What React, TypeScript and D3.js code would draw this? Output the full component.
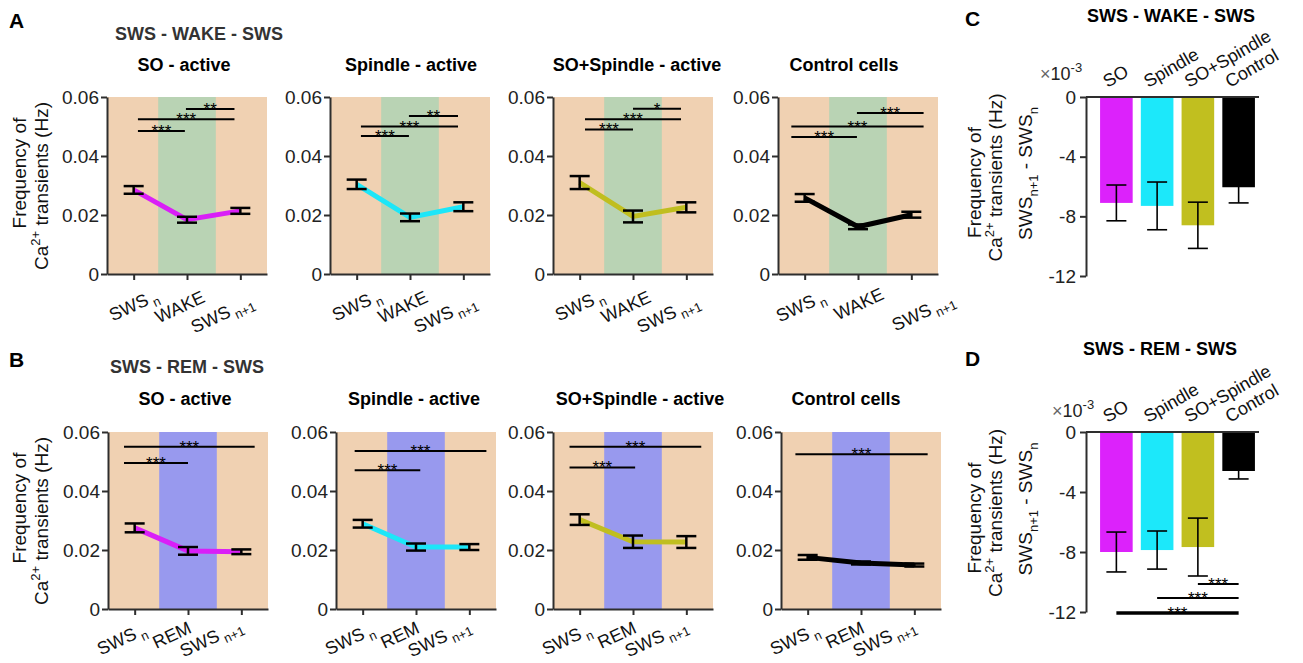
import React, { useEffect, useRef } from 'react';
import * as d3 from 'd3';

// x axis stages of the line panels
const wakeStages = ['SWS', 'WAKE', 'SWS'];
const remStages = ['SWS', 'REM', 'SWS'];
const stageSubs = ['n', '', 'n+1'];

const cellTypes = ['SO - active', 'Spindle - active', 'SO+Spindle - active', 'Control cells'];
const cellColors = ['#d91ff7', '#1de6f8', '#c0be1f', '#000000'];

const yTicks = [0, 0.02, 0.04, 0.06];

// mean frequency of Ca2+ transients (Hz) and SEM, one row per cell type
const wakeMeans = [
  [0.0285, 0.0184, 0.0214],
  [0.0304, 0.0192, 0.0228],
  [0.031, 0.0195, 0.0226],
  [0.0258, 0.016, 0.0201],
];
const wakeSem = [
  [0.0013, 0.001, 0.001],
  [0.0016, 0.0013, 0.0015],
  [0.0022, 0.002, 0.0017],
  [0.0013, 0.0008, 0.001],
];
const remMeans = [
  [0.0275, 0.0197, 0.0194],
  [0.0289, 0.021, 0.021],
  [0.0303, 0.0228, 0.0227],
  [0.0175, 0.0156, 0.0149],
];
const remSem = [
  [0.0015, 0.0013, 0.0008],
  [0.0013, 0.0012, 0.001],
  [0.0018, 0.0021, 0.002],
  [0.0008, 0.0005, 0.0005],
];

// significance bars: [from stage, to stage, height (Hz), stars]
const wakeSig: [number, number, number, string][][] = [
  [[0.08, 0.96, 0.0485, '***'], [0.08, 1.89, 0.0525, '***'], [0.98, 1.89, 0.0559, '**']],
  [[0.08, 0.98, 0.0468, '***'], [0.08, 1.9, 0.05, '***'], [0.98, 1.9, 0.0536, '**']],
  [[0.1, 1.0, 0.049, '***'], [0.1, 1.9, 0.0525, '***'], [1.0, 1.9, 0.056, '*']],
  [[-0.25, 0.98, 0.0464, '***'], [-0.25, 2.23, 0.05, '***'], [0.98, 2.23, 0.0546, '***']],
];
const remSig: [number, number, number, string][][] = [
  [[-0.2, 1.0, 0.0495, '***'], [-0.2, 2.25, 0.055, '***']],
  [[-0.15, 1.08, 0.047, '***'], [-0.15, 2.32, 0.0536, '***']],
  [[-0.19, 1.04, 0.048, '***'], [-0.19, 2.28, 0.055, '***']],
  [[-0.23, 2.25, 0.0525, '***']],
];

// SWS(n+1) - SWS(n), x 10^-3 Hz
const diffGroups = ['SO', 'Spindle', 'SO+Spindle', 'Control'];
const diffColors = ['#dc22fb', '#1ce8fa', '#c1bf1f', '#000000'];
const diffTicks = [0, -4, -8, -12];
const wakeDiff = [-7.1, -7.3, -8.6, -6.05];
const wakeDiffErr = [1.2, 1.6, 1.55, 1.05];
const remDiff = [-8.0, -7.87, -7.67, -2.6];
const remDiffErr = [1.33, 1.27, 1.93, 0.53];
const remDiffSig: [number, number, number, string][] = [
  [2, 3, -10.13, '***'],
  [1, 3, -11.07, '***'],
  [0, 3, -12.07, '***'],
];

const FONT = '"Liberation Sans", Arial, Helvetica, sans-serif';
const PEACH = '#f0d1b2';
const GREEN = '#b9d3b4';
const BLUE = '#9899ee';
const AXIS = '#2e2e2e';

type Sel = d3.Selection<SVGSVGElement, unknown, null, undefined>;

function styleAxis(a: any) {
  a.attr('font-size', 19).attr('font-family', FONT);
  a.select('.domain').attr('stroke', AXIS).attr('stroke-width', 2);
  a.selectAll('.tick line').attr('stroke', AXIS).attr('stroke-width', 2);
  a.selectAll('.tick text').attr('fill', '#222');
}

function linePanel(svg: Sel, o: any) {
  const { left, top, bottom, means, sems, color, sig, stages, midFill, title, titleX, titleY, shifts } = o;
  const x = d3.scaleLinear().domain([-0.5, 2.5]).range([left, left + 160]);
  const y = d3.scaleLinear().domain([0, 0.06]).range([bottom, top]);
  const g = svg.append('g');

  g.append('rect').attr('x', x(-0.5)).attr('y', y(0.06))
    .attr('width', x(2.5) - x(-0.5)).attr('height', y(0) - y(0.06)).attr('fill', PEACH);
  g.append('rect').attr('x', x(0.46)).attr('y', y(0.06))
    .attr('width', x(1.54) - x(0.46)).attr('height', y(0) - y(0.06)).attr('fill', midFill);

  sig.forEach(([a, b, h, s]: [number, number, number, string]) => {
    g.append('line').attr('x1', x(a)).attr('x2', x(b)).attr('y1', y(h)).attr('y2', y(h))
      .attr('stroke', '#000').attr('stroke-width', 2);
    g.append('text').attr('x', (x(a) + x(b)) / 2).attr('y', y(h) + 6)
      .attr('text-anchor', 'middle').attr('font-size', 17).attr('font-family', FONT).text(s);
  });

  const line = d3.line<number>().x((d, i) => x(i)).y(d => y(d));
  g.append('path').datum(means).attr('d', line)
    .attr('fill', 'none').attr('stroke', color).attr('stroke-width', 5);

  means.forEach((m: number, i: number) => {
    const s = sems[i];
    const eb = g.append('g').attr('stroke', '#000').attr('stroke-width', 2.5);
    eb.append('line').attr('x1', x(i)).attr('x2', x(i)).attr('y1', y(m - s)).attr('y2', y(m + s));
    eb.append('line').attr('x1', x(i) - 10).attr('x2', x(i) + 10).attr('y1', y(m - s)).attr('y2', y(m - s));
    eb.append('line').attr('x1', x(i) - 10).attr('x2', x(i) + 10).attr('y1', y(m + s)).attr('y2', y(m + s));
  });

  const ya = g.append('g').attr('transform', `translate(${left},0)`)
    .call(d3.axisLeft(y).tickValues(yTicks)
      .tickFormat(d => (d === 0 ? '0' : d3.format('.2f')(d as number)))
      .tickSize(6).tickSizeOuter(0).tickPadding(2));
  styleAxis(ya);
  const xa = g.append('g').attr('transform', `translate(0,${bottom})`)
    .call(d3.axisBottom(x).tickValues([0, 1, 2]).tickFormat(() => '').tickSize(6).tickSizeOuter(0));
  styleAxis(xa);

  stages.forEach((s: string, i: number) => {
    const t = g.append('text')
      .attr('transform', `translate(${x(i) + shifts[i][0] + 2.5},${bottom + shifts[i][1] + 5.5}) rotate(-25)`)
      .attr('text-anchor', 'middle').attr('font-size', 18).attr('font-family', FONT).attr('fill', '#111');
    t.append('tspan').text(s);
    if (stageSubs[i]) t.append('tspan').attr('dy', 5).attr('font-size', 13).text('\u00a0' + stageSubs[i]);
  });

  g.append('text').attr('x', titleX).attr('y', titleY).attr('text-anchor', 'middle')
    .attr('font-size', 18).attr('font-weight', 'bold').attr('font-family', FONT).text(title);
}

function freqLabel(svg: Sel, x1: number, x2: number, cy1: number, cy2: number) {
  svg.append('text').attr('transform', `translate(${x1},${cy1}) rotate(-90)`)
    .attr('text-anchor', 'middle').attr('font-size', 19).attr('font-family', FONT).attr('fill', '#111')
    .text('Frequency of');
  const t = svg.append('text').attr('transform', `translate(${x2},${cy2}) rotate(-90)`)
    .attr('text-anchor', 'middle').attr('font-size', 19).attr('font-family', FONT).attr('fill', '#111');
  t.append('tspan').text('Ca');
  t.append('tspan').attr('dy', -8).attr('font-size', 13).text('2+');
  t.append('tspan').attr('dy', 8).text(' transients (Hz)');
}

function barPanel(svg: Sel, o: any) {
  const { left, right, top, bottom, values, errs, sig, expX, expY } = o;
  const y = d3.scaleLinear().domain([-12, 0]).range([bottom, top]);
  const x = d3.scaleBand<string>().domain(diffGroups).range([left + 10, right])
    .paddingInner(0.2).paddingOuter(0.1);
  const g = svg.append('g');

  diffGroups.forEach((k, i) => {
    g.append('rect').attr('x', x(k)!).attr('y', y(0)).attr('width', x.bandwidth())
      .attr('height', y(values[i]) - y(0)).attr('fill', diffColors[i]);
  });
  diffGroups.forEach((k, i) => {
    const cx = x(k)! + x.bandwidth() / 2;
    const lo = values[i] - errs[i];
    const hi = values[i] + errs[i];
    const eb = g.append('g').attr('stroke', '#000').attr('stroke-width', 1.6);
    eb.append('line').attr('x1', cx).attr('x2', cx).attr('y1', y(lo)).attr('y2', y(hi));
    eb.append('line').attr('x1', cx - 10).attr('x2', cx + 10).attr('y1', y(lo)).attr('y2', y(lo));
    eb.append('line').attr('x1', cx - 10).attr('x2', cx + 10).attr('y1', y(hi)).attr('y2', y(hi));
  });

  (sig || []).forEach(([a, b, h, s]: [number, number, number, string], j: number) => {
    const xa = x(diffGroups[a])! + x.bandwidth() / 2;
    const xb = x(diffGroups[b])! + x.bandwidth() / 2;
    g.append('line').attr('x1', xa).attr('x2', xb).attr('y1', y(h)).attr('y2', y(h))
      .attr('stroke', '#000').attr('stroke-width', j === 2 ? 3.5 : 2);
    g.append('text').attr('x', (xa + xb) / 2).attr('y', y(h) + 6).attr('text-anchor', 'middle')
      .attr('font-size', 17).attr('font-family', FONT).text(s);
  });

  g.append('line').attr('x1', left).attr('x2', right).attr('y1', y(0)).attr('y2', y(0))
    .attr('stroke', AXIS).attr('stroke-width', 2);
  const ya = g.append('g').attr('transform', `translate(${left},0)`)
    .call(d3.axisLeft(y).tickValues(diffTicks).tickFormat(d => String(d))
      .tickSize(6).tickSizeOuter(0).tickPadding(4));
  styleAxis(ya);

  diffGroups.forEach((k, i) => {
    const cx = x(k)! + x.bandwidth() / 2;
    g.append('text').attr('transform', `translate(${cx - 9},${y(0) - 9}) rotate(-30)`)
      .attr('font-size', 18).attr('font-family', FONT).attr('fill', '#111').text(k);
  });

  const ex = g.append('text').attr('x', expX).attr('y', expY).attr('font-size', 18)
    .attr('font-family', FONT).attr('fill', '#222');
  ex.append('tspan').attr('fill', '#666').text('\u00d7');
  ex.append('tspan').text('10');
  ex.append('tspan').attr('dy', -8).attr('font-size', 13).text('-3');

  const cy = (top + bottom) / 2;
  freqLabel(svg, 981, 1002, cy - 4, cy - 9);
  const t = g.append('text').attr('transform', `translate(1032,${cy - 13}) rotate(-90)`)
    .attr('text-anchor', 'middle').attr('font-size', 19).attr('font-family', FONT).attr('fill', '#111');
  t.append('tspan').text('SWS');
  t.append('tspan').attr('dy', 6).attr('font-size', 13).text('n+1');
  t.append('tspan').attr('dy', -6).text(' - SWS');
  t.append('tspan').attr('dy', 6).attr('font-size', 13).text('n');
}

function heading(svg: Sel, x: number, y: number, text: string, size: number, fill: string, anchor = 'start') {
  svg.append('text').attr('x', x).attr('y', y).attr('text-anchor', anchor)
    .attr('font-size', size).attr('font-weight', 'bold').attr('font-family', FONT).attr('fill', fill).text(text);
}

export default function App() {
  const ref = useRef<SVGSVGElement>(null);

  useEffect(() => {
    const svg = d3.select(ref.current!) as Sel;
    svg.selectAll('*').remove();

    const leftsA = [107, 330, 553, 778];
    const leftsB = [108, 336, 553, 781];
    const titleXA = [184, 411, 637, 844];
    const titleXB = [185, 414, 640, 846];
    const shiftActiveA = [[0, 31], [-7, 33], [-18, 40]];
    const shiftControlA = [[-4, 32], [1, 30], [12, 38]];
    const shiftB = [[-13, 30], [-16, 26], [-30, 29]];

    cellTypes.forEach((c, i) => {
      linePanel(svg, {
        left: leftsA[i], top: 97, bottom: 274, means: wakeMeans[i], sems: wakeSem[i],
        color: cellColors[i], sig: wakeSig[i], stages: wakeStages, midFill: GREEN,
        title: c, titleX: titleXA[i], titleY: 71, shifts: i === 3 ? shiftControlA : shiftActiveA,
      });
      linePanel(svg, {
        left: leftsB[i], top: 432, bottom: 609, means: remMeans[i], sems: remSem[i],
        color: cellColors[i], sig: remSig[i], stages: remStages, midFill: BLUE,
        title: c, titleX: titleXB[i], titleY: 405, shifts: shiftB,
      });
    });

    freqLabel(svg, 26, 48, 173, 186);
    freqLabel(svg, 26, 48, 508, 521);

    heading(svg, 9, 28, 'A', 21, '#000');
    heading(svg, 115, 40, 'SWS - WAKE - SWS', 18, '#333');
    heading(svg, 9, 367, 'B', 21, '#000');
    heading(svg, 110, 373, 'SWS - REM - SWS', 18, '#333');

    barPanel(svg, { left: 1086, right: 1259, top: 97, bottom: 276, values: wakeDiff, errs: wakeDiffErr, expX: 1040, expY: 80 });
    barPanel(svg, { left: 1086, right: 1259, top: 432, bottom: 612, values: remDiff, errs: remDiffErr, sig: remDiffSig, expX: 1052, expY: 417 });

    heading(svg, 965, 26, 'C', 21, '#000');
    heading(svg, 1087, 22, 'SWS - WAKE - SWS', 18, '#000');
    heading(svg, 965, 366, 'D', 21, '#000');
    heading(svg, 1083, 355, 'SWS - REM - SWS', 18, '#000');
  }, []);

  return (
    <svg ref={ref} width={1303} height={663}
      style={{ position: 'absolute', left: 0, top: 0, background: '#fff' }} />
  );
}
